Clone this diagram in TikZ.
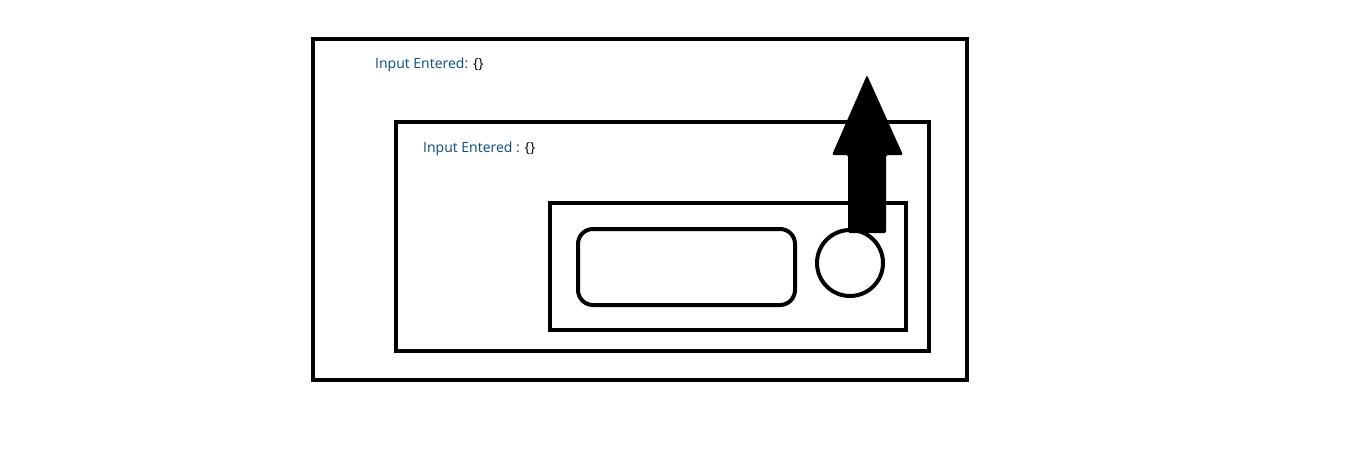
\documentclass[tikz,border=0pt]{standalone}
\usepackage{fontspec}
\setmainfont{Open Sans}
\definecolor{lbl}{HTML}{0A4A80}
\begin{document}
\begin{tikzpicture}[x=1pt,y=-1pt,
  frame/.style={draw=black,line width=4.5pt},
  ctl/.style={draw=black,line width=4pt},
  lab/.style={anchor=base west,inner sep=0pt,font=\fontsize{14}{16}\selectfont,text=lbl}]
\useasboundingbox (0,0) rectangle (1360,460);
\draw[frame] (313,39) rectangle (967,380);
\draw[frame] (396,122) rectangle (929,351);
\draw[frame] (550,203) rectangle (906,330);
\draw[ctl,rounded corners=15pt] (578,229) rectangle (795,305);
\node[ctl,circle,minimum size=66pt,inner sep=0pt] (btn) at (850,263) {};
\fill[black,rounded corners=1.5pt] (848,233) -- (848,155) -- (832,155) -- (867,75) -- (903,155) -- (886,155) -- (886,233) -- cycle;
\node[lab] (t1) at (375,69) {Input Entered: \textcolor{black}{\{\}}};
\node[lab] (t2) at (423,152) {Input Entered : \textcolor{black}{\{\}}};
\end{tikzpicture}
\end{document}
